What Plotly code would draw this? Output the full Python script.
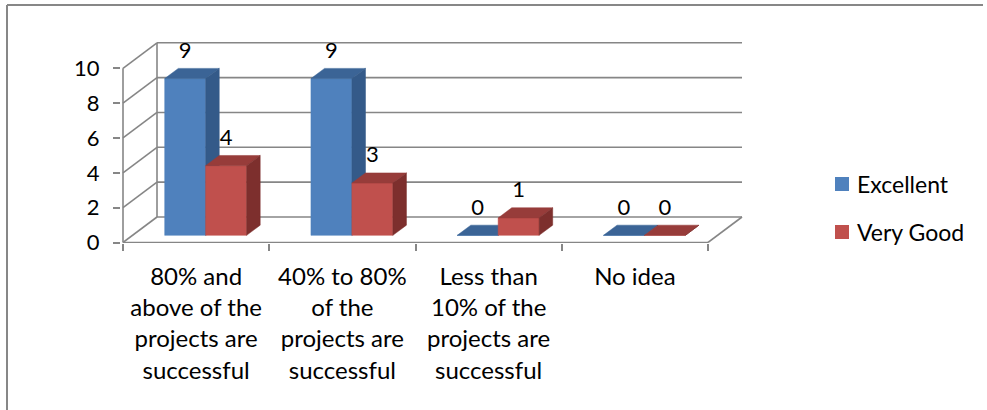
import plotly.graph_objects as go

# ---- data -------------------------------------------------------------
categories = [
    "80% and<br>above of the<br>projects are<br>successful",
    "40% to 80%<br>of the<br>projects are<br>successful",
    "Less than<br>10% of the<br>projects are<br>successful",
    "No idea",
]
series_names = ["Excellent", "Very Good"]
excellent = [9, 9, 0, 0]
very_good = [4, 3, 1, 0]
y_ticks = [0, 2, 4, 6, 8, 10]

# ---- style ------------------------------------------------------------
FRONT = ["#4F81BD", "#C0504D"]
TOP = ["#3B6496", "#973C3A"]
SIDE = ["#345A89", "#7D2F2D"]
GRID = "#868686"
FONT = "Lato"

W, H = 987, 410
ML, MR, MT, MB = 121, 242, 40, 167
PW, PH = W - ML - MR, H - MT - MB

# oblique projection: depth moves up and to the right (in data units)
DEPTH_X = 0.2325
DEPTH_Y = 1.464
D_FRONT, D_BACK = 0.28, 0.68
GAP = 0.22
BAR_W = 0.28
LABEL_OFF = 1.5

X_PER_CAT = 146.25
Y_PER_UNIT = 17.42
XLO = -2 / X_PER_CAT
XHI = XLO + PW / X_PER_CAT
YLO = -0.5 / Y_PER_UNIT
YHI = YLO + PH / Y_PER_UNIT

n = len(categories)
vmax = y_ticks[-1]


def proj(c, v, d):
    return c + d * DEPTH_X, v + d * DEPTH_Y


def px_x(px):
    return (px - ML) / PW


def px_y(py):
    return (H - MB - py) / PH


fig = go.Figure()

# ---- walls, floor and gridlines ---------------------------------------
gx, gy = [], []


def seg(a, b):
    gx.extend([a[0], b[0], None])
    gy.extend([a[1], b[1], None])


for v in y_ticks:
    seg(proj(0, v, 1), proj(n, v, 1))
    seg(proj(0, v, 0), proj(0, v, 1))
seg(proj(0, 0, 1), proj(0, vmax, 1))
seg(proj(0, 0, 0), proj(0, vmax, 0))
seg(proj(0, 0, 0), proj(n, 0, 0))
seg(proj(n, 0, 0), proj(n, 0, 1))

fig.add_trace(go.Scatter(x=gx, y=gy, mode="lines",
                         line=dict(color=GRID, width=1.6),
                         hoverinfo="skip", showlegend=False))

# ---- 3-D columns -------------------------------------------------------
all_values = [excellent, very_good]
for s, (name, values) in enumerate(zip(series_names, all_values)):
    fx, fy, tx, ty, sx, sy = [], [], [], [], [], []
    for i, v in enumerate(values):
        c0 = i + GAP + s * BAR_W
        c1 = c0 + BAR_W
        front = [proj(c0, 0, D_FRONT), proj(c1, 0, D_FRONT),
                 proj(c1, v, D_FRONT), proj(c0, v, D_FRONT)]
        top = [proj(c0, v, D_FRONT), proj(c1, v, D_FRONT),
               proj(c1, v, D_BACK), proj(c0, v, D_BACK)]
        side = [proj(c1, 0, D_FRONT), proj(c1, v, D_FRONT),
                proj(c1, v, D_BACK), proj(c1, 0, D_BACK)]
        for poly, xs, ys in ((front, fx, fy), (top, tx, ty), (side, sx, sy)):
            xs.extend([p[0] for p in poly] + [poly[0][0], None])
            ys.extend([p[1] for p in poly] + [poly[0][1], None])
    for xs, ys, col in ((fx, fy, FRONT[s]), (tx, ty, TOP[s]), (sx, sy, SIDE[s])):
        fig.add_trace(go.Scatter(x=xs, y=ys, mode="lines", fill="toself",
                                 fillcolor=col, line=dict(color=col, width=0.5),
                                 name=name, hoverinfo="skip", showlegend=False))

# ---- value labels -------------------------------------------------------
lx, ly, lt = [], [], []
for s, values in enumerate(all_values):
    for i, v in enumerate(values):
        cx, cy = proj(i + GAP + s * BAR_W + BAR_W / 2, v, D_FRONT)
        lx.append(cx)
        ly.append(cy + LABEL_OFF)
        lt.append(str(v))
fig.add_trace(go.Scatter(x=lx, y=ly, text=lt, mode="text",
                         textposition="middle center",
                         textfont=dict(family=FONT, size=22, color="black"),
                         cliponaxis=False, hoverinfo="skip", showlegend=False))

# carrier for the category-label axis
fig.add_trace(go.Scatter(x=[None], y=[None], xaxis="x2", yaxis="y",
                         showlegend=False, hoverinfo="skip"))

# ---- legend --------------------------------------------------------------
shapes = []
annotations = []
for s, name in enumerate(series_names):
    top_px = 177 + s * 48
    shapes.append(dict(type="rect", xref="paper", yref="paper",
                       x0=px_x(835), x1=px_x(849),
                       y0=px_y(top_px + 14), y1=px_y(top_px),
                       fillcolor=FRONT[s], line=dict(width=0)))
    annotations.append(dict(xref="paper", yref="paper",
                            x=px_x(855), y=px_y(top_px + 7),
                            xanchor="left", yanchor="middle",
                            text=name, showarrow=False,
                            font=dict(family=FONT, size=23, color="black")))

# chart frame
shapes.append(dict(type="line", xref="paper", yref="paper",
                   x0=px_x(7), x1=px_x(983), y0=px_y(5), y1=px_y(5),
                   line=dict(color="#878787", width=2)))
shapes.append(dict(type="line", xref="paper", yref="paper",
                   x0=px_x(7), x1=px_x(7), y0=px_y(5), y1=px_y(H + 2),
                   line=dict(color="#878787", width=2)))

fig.update_layout(
    width=W, height=H,
    margin=dict(l=ML, r=MR, t=MT, b=MB, autoexpand=False),
    paper_bgcolor="white", plot_bgcolor="white",
    font=dict(family=FONT, color="black"),
    showlegend=False,
    shapes=shapes,
    annotations=annotations,
    xaxis=dict(range=[XLO, XHI], tickvals=list(range(n + 1)),
               ticktext=[""] * (n + 1), ticks="outside", ticklen=7,
               tickwidth=1.6, tickcolor=GRID, showgrid=False,
               zeroline=False, showline=False, fixedrange=True,
               automargin=False),
    xaxis2=dict(overlaying="x", matches="x", anchor="y", side="bottom",
                range=[XLO, XHI],
                tickvals=[i + 0.5 for i in range(n)], ticktext=categories,
                ticks="", showgrid=False, zeroline=False, showline=False,
                ticklabelstandoff=17,
                tickfont=dict(family=FONT, size=24, color="black"),
                fixedrange=True, automargin=False),
    yaxis=dict(range=[YLO, YHI], tickvals=y_ticks, ticks="outside",
               ticklen=7, tickwidth=1.6, tickcolor=GRID, showgrid=False,
               zeroline=False, showline=False, fixedrange=True,
               ticklabelstandoff=9,
               tickfont=dict(family=FONT, size=22, color="black"),
               automargin=False),
)

fig.write_html("out.html", config=dict(displayModeBar=False))
